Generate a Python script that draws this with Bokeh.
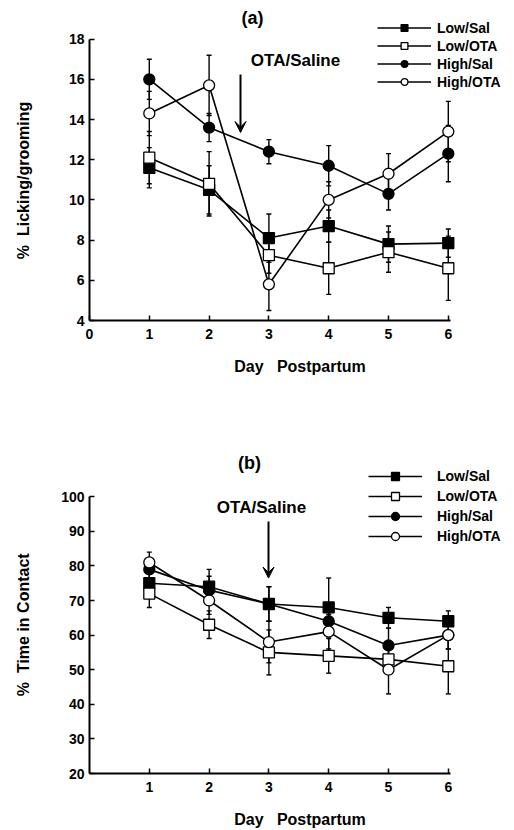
import math
from bokeh.plotting import figure
from bokeh.layouts import column
from bokeh.models import (Range1d, ColumnDataSource, Whisker, TeeHead, Arrow, VeeHead,
                          Legend, LegendItem, FixedTicker)
from bokeh.core.properties import value
from bokeh.embed import file_html
from bokeh.resources import INLINE

# ---------------- data ----------------
days = [1, 2, 3, 4, 5, 6]
groups = ["Low/Sal", "Low/OTA", "High/Sal", "High/OTA"]

# (a) % Licking/grooming
a_low_sal = [11.6, 10.5, 8.1, 8.7, 7.8, 7.85]
a_low_sal_err = [1.0, 1.2, 1.2, 0.8, 0.9, 0.7]
a_low_ota = [12.1, 10.8, 7.25, 6.6, 7.4, 6.6]
a_low_ota_err = [1.3, 1.6, 0.9, 1.3, 1.0, 1.6]
a_high_sal = [16.0, 13.6, 12.4, 11.7, 10.3, 12.3]
a_high_sal_err = [1.0, 0.7, 0.6, 1.0, 0.8, 1.4]
a_high_ota = [14.3, 15.7, 5.8, 10.0, 11.3, 13.4]
a_high_ota_err = [1.1, 1.5, 1.3, 0.9, 1.0, 1.5]

# (b) % Time in Contact
b_low_sal = [75, 74, 69, 68, 65, 64]
b_low_sal_err = [4, 5, 5, 8.5, 3, 3]
b_low_ota = [72, 63, 55, 54, 53, 51]
b_low_ota_err = [4, 4, 6.5, 5, 4, 8]
b_high_sal = [79, 73, 69, 64, 57, 60]
b_high_sal_err = [3, 4, 5, 4, 5, 4]
b_high_ota = [81, 70, 58, 61, 50, 60]
b_high_ota_err = [3, 4, 6, 5, 7, 4]

a_yticks = [4, 6, 8, 10, 12, 14, 16, 18]
b_yticks = [20, 30, 40, 50, 60, 70, 80, 90, 100]
a_xticks = [0, 1, 2, 3, 4, 5, 6]
b_xticks = [1, 2, 3, 4, 5, 6]

# ---------------- styling ----------------
FONT = "Liberation Sans"
markers = ["square", "square", "circle", "circle"]
fills = ["black", "white", "black", "white"]
NB = "\u00a0"
FIG_W = 510
LEFT = 89
PX_X = 59.8
XLABEL = "Day" + NB * 3 + "Postpartum"


def make_panel(height, border_bottom, ylo, px_per_unit, yticks, xticks,
               series, errs, title, title_xy, ylabel, ylabel_standoff,
               note_xy, arrow_xyy, legend_loc, leg_gh, leg_sp, leg_gw, leg_so):
    frame_h = height - border_bottom
    yhi = ylo + frame_h / px_per_unit
    xhi = (FIG_W - LEFT) / PX_X
    p = figure(width=FIG_W, height=height, x_range=Range1d(0, xhi), y_range=Range1d(ylo, yhi),
               output_backend="svg", toolbar_location=None,
               min_border_left=LEFT, min_border_right=0, min_border_top=0,
               min_border_bottom=border_bottom)
    p.outline_line_color = None
    p.xgrid.visible = False
    p.ygrid.visible = False
    p.background_fill_color = "white"
    for ax in (p.xaxis[0], p.yaxis[0]):
        ax.axis_line_width = 2
        ax.major_tick_in = 5
        ax.major_tick_out = 0
        ax.major_tick_line_width = 1.5
        ax.minor_tick_line_color = None
        ax.major_label_text_font = FONT
        ax.major_label_text_font_style = "bold"
        ax.major_label_text_font_size = "14px"
        ax.major_label_text_color = "black"
        ax.axis_label_text_font = FONT
        ax.axis_label_text_font_style = "bold"
        ax.axis_label_text_font_size = "16px"
        ax.axis_label_text_color = "black"
    p.xaxis[0].ticker = FixedTicker(ticks=xticks)
    p.yaxis[0].ticker = FixedTicker(ticks=yticks)
    p.xaxis[0].bounds = (0, 6.03)
    p.yaxis[0].bounds = (yticks[0], yticks[-1])
    p.xaxis[0].major_label_standoff = 8
    p.yaxis[0].major_label_standoff = 5
    p.xaxis[0].axis_label = XLABEL
    p.xaxis[0].axis_label_standoff = 16
    p.yaxis[0].axis_label = ylabel
    p.yaxis[0].axis_label_standoff = ylabel_standoff

    line_rs, mark_rs = [], []
    for vals, ers in zip(series, errs):
        src = ColumnDataSource(dict(x=days, y=vals,
                                    upper=[v + e for v, e in zip(vals, ers)],
                                    lower=[v - e for v, e in zip(vals, ers)]))
        w = Whisker(source=src, base="x", upper="upper", lower="lower", dimension="height",
                    line_width=1.4, line_color="black", level="underlay",
                    upper_head=TeeHead(size=5, line_width=1.4, line_color="black"),
                    lower_head=TeeHead(size=5, line_width=1.4, line_color="black"))
        p.add_layout(w)
        lr = p.line("x", "y", source=src, line_color="black", line_width=1.6)
        line_rs.append((lr, src))
    for (lr, src), mk, fc in zip(line_rs, markers, fills):
        mr = p.scatter("x", "y", source=src, marker=mk, size=11, fill_color=fc,
                       line_color="black", line_width=1.3)
        mark_rs.append(mr)

    # title, note, arrow
    p.text(x=[title_xy[0]], y=[title_xy[1]], text=[title], text_align="center",
           text_baseline="middle", text_font=value(FONT), text_font_style="bold",
           text_font_size="18px", text_color="black")
    p.text(x=[note_xy[0]], y=[note_xy[1]], text=["OTA/Saline"], text_align="center",
           text_baseline="middle", text_font=value(FONT), text_font_style="bold",
           text_font_size="17px", text_color="black")
    ax_, y0, y1 = arrow_xyy
    p.add_layout(Arrow(x_start=ax_, y_start=y0, x_end=ax_, y_end=y1, line_width=2,
                       line_color="black",
                       end=VeeHead(size=11, fill_color="black", line_color="black",
                                   line_width=1)))

    items = [LegendItem(label=g, renderers=[lr, mr])
             for g, (lr, _), mr in zip(groups, line_rs, mark_rs)]
    leg = Legend(items=items, location=legend_loc, glyph_width=leg_gw, glyph_height=leg_gh,
                 label_height=leg_gh, spacing=leg_sp, padding=0, margin=0,
                 border_line_alpha=0, background_fill_alpha=0, label_standoff=leg_so,
                 label_text_font=FONT, label_text_font_style="bold",
                 label_text_font_size="14px", label_text_color="black")
    p.add_layout(leg)
    return p


def ya(py):  # page y -> data y, panel (a)
    return 4 + (320 - py) / 20.1


def yb(py):  # page y -> data y, panel (b)
    return 20 + (776 - py) / 3.4875


def xd(px):
    return (px - LEFT) / PX_X


pa = make_panel(400, 80, 4, 20.1, a_yticks, a_xticks,
                [a_low_sal, a_low_ota, a_high_sal, a_high_ota],
                [a_low_sal_err, a_low_ota_err, a_high_sal_err, a_high_ota_err],
                "(a)", (xd(252), ya(17)), "%" + NB * 2 + "Licking/grooming" + NB * 9, 34,
                (xd(295), ya(60)), (xd(240), ya(74), ya(132)),
                (377 - LEFT, 320 - 90), 17, 1, 54, 6)

pb = make_panel(430, 54, 20, 3.4875, b_yticks, b_xticks,
                [b_low_sal, b_low_ota, b_high_sal, b_high_ota],
                [b_low_sal_err, b_low_ota_err, b_high_sal_err, b_high_ota_err],
                "(b)", (xd(249), yb(463)), "%" + NB * 2 + "Time in Contact" + NB * 17, 26,
                (xd(261), yb(508)), (xd(268), yb(522), yb(579)),
                (368 - LEFT, 776 - 549), 20, 0, 54, 15)

layout = column(pa, pb, spacing=0)
open("out.html", "w").write(file_html(layout, INLINE))
